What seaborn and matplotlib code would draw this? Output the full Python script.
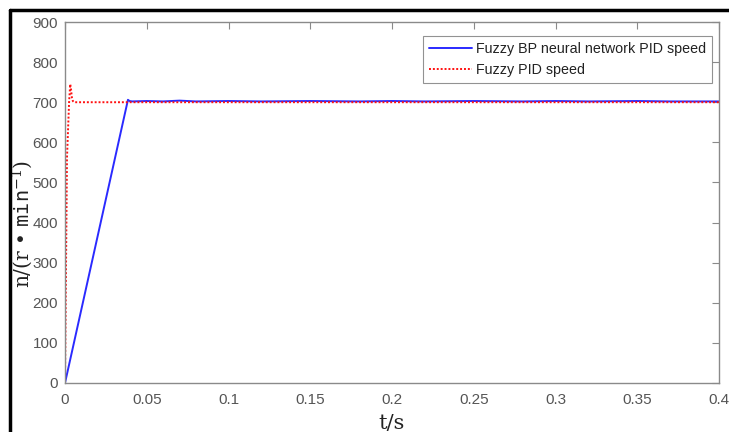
import matplotlib
matplotlib.use("Agg")
import matplotlib.pyplot as plt
import seaborn as sns
import pandas as pd
from matplotlib.lines import Line2D

# Data
bp_t = [0.0, 0.0385, 0.0395, 0.041, 0.05, 0.06, 0.07, 0.08, 0.1, 0.12, 0.15, 0.18, 0.2, 0.22, 0.25, 0.28, 0.3, 0.32, 0.35, 0.37, 0.4]
bp_n = [0.0, 706.0, 703.0, 702.0, 703.0, 702.0, 704.0, 702.0, 703.0, 702.0, 703.0, 702.0, 703.0, 702.0, 703.0, 702.0, 703.0, 702.0, 703.0, 702.0, 702.0]
pid_t = [0.0, 0.0012, 0.0025, 0.0032, 0.0036, 0.0042, 0.0048, 0.0055, 0.4]
pid_n = [0.0, 560.0, 700.0, 745.0, 735.0, 712.0, 703.0, 700.0, 700.0]

label_bp = "Fuzzy BP neural network PID speed"
label_pid = "Fuzzy PID speed"
xticks = [0, 0.05, 0.1, 0.15, 0.2, 0.25, 0.3, 0.35, 0.4]
xtick_labels = ["0", "0.05", "0.1", "0.15", "0.2", "0.25", "0.3", "0.35", "0.4"]
yticks = [0, 100, 200, 300, 400, 500, 600, 700, 800, 900]

sns.set_theme(style="white")
plt.rcParams['font.family'] = ['Liberation Sans', 'DejaVu Sans']
plt.rcParams['mathtext.fontset'] = 'dejavuserif'

fig = plt.figure(figsize=(7.29, 4.32), dpi=100)
ax = fig.add_axes([65 / 729, 1 - 383 / 432, (719 - 65) / 729, (383 - 22) / 432])

df_bp = pd.DataFrame({"t": bp_t, "n": bp_n})
df_pid = pd.DataFrame({"t": pid_t, "n": pid_n})
sns.lineplot(data=df_bp, x="t", y="n", ax=ax, color="#2a2aff", linewidth=1.4,
             label=label_bp, sort=False)
sns.lineplot(data=df_pid, x="t", y="n", ax=ax, color="#ff1010", linewidth=1.4,
             linestyle=(0, (1, 1)), label=label_pid, sort=False)

ax.set_xlim(0, 0.4)
ax.set_ylim(0, 900)
ax.set_xticks(xticks)
ax.set_xticklabels(xtick_labels)
ax.set_yticks(yticks)

for s in ax.spines.values():
    s.set_visible(True)
    s.set_color("#8a8a8a")
    s.set_linewidth(1.0)
ax.tick_params(direction="in", length=5, width=0.8, colors="#8a8a8a",
               top=True, right=True, labelsize=11, labelcolor="#555555")
ax.tick_params(axis="x", pad=7)
ax.tick_params(axis="y", pad=5)

ax.set_xlabel("t/s", fontfamily="DejaVu Serif", fontsize=15, color="#222222")
ax.xaxis.set_label_coords(0.5, (383 - 429) / 361)
ax.xaxis.label.set_va("baseline")
ax.set_ylabel(r"n/(r • $\mathtt{min}^{-1}$)", fontfamily="DejaVu Serif",
              fontsize=14.5, color="#222222")
ax.yaxis.set_label_coords((35 - 65) / 654, (383 - 224) / 361)

leg = ax.legend(loc="upper right", bbox_to_anchor=((712 - 65) / 654, (383 - 36) / 361),
                fontsize=10.3, frameon=True, fancybox=False,
                edgecolor="#777777", borderpad=0.4, handlelength=3.0,
                handletextpad=0.3, labelspacing=0.5, borderaxespad=0)
leg.get_frame().set_linewidth(0.8)
for t in leg.get_texts():
    t.set_color("#222222")

# black frame on the left and top of the image
fig.add_artist(Line2D([9.5 / 729, 9.5 / 729], [0, 1 - 10 / 432], color="black",
                      linewidth=2.5, transform=fig.transFigure))
fig.add_artist(Line2D([9.5 / 729, 1], [1 - 10 / 432, 1 - 10 / 432], color="black",
                      linewidth=2.5, transform=fig.transFigure))

fig.savefig("out.png", dpi=100)
